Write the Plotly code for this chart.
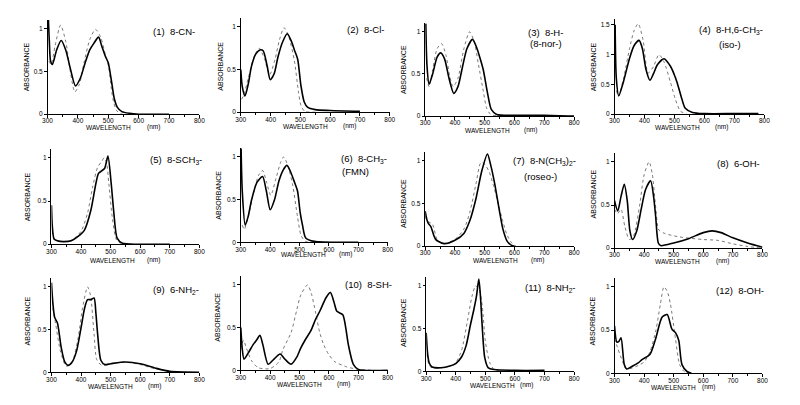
import plotly.graph_objects as go

# ---------------- data (wavelength nm, absorbance) ----------------
p1_sol_wl = [303, 306, 310, 316, 330, 345, 360, 376, 392, 408, 424, 439, 453, 468, 479, 490, 500, 510, 520, 530, 545, 570, 600, 700]
p1_sol_ab = [1.1, 0.85, 0.62, 0.58, 0.75, 0.86, 0.75, 0.52, 0.33, 0.42, 0.6, 0.75, 0.83, 0.9, 0.79, 0.68, 0.6, 0.4, 0.18, 0.08, 0.03, 0.01, 0.0, 0.0]
p1_dot_wl = [305, 312, 325, 343, 360, 375, 390, 405, 420, 440, 458, 475, 490, 501, 510, 517, 528, 545, 600]
p1_dot_ab = [0.62, 0.58, 0.8, 1.04, 0.85, 0.5, 0.26, 0.35, 0.6, 0.88, 0.99, 0.9, 0.7, 0.56, 0.3, 0.15, 0.04, 0.0, 0.0]

p2_sol_wl = [300, 305, 314, 325, 336, 350, 364, 375, 388, 399, 412, 425, 440, 456, 470, 480, 491, 502, 513, 524, 550, 600, 700]
p2_sol_ab = [0.5, 0.3, 0.19, 0.33, 0.54, 0.68, 0.73, 0.72, 0.55, 0.38, 0.45, 0.65, 0.82, 0.92, 0.83, 0.73, 0.62, 0.31, 0.12, 0.06, 0.03, 0.02, 0.01]
p2_dot_wl = [302, 310, 325, 345, 362, 380, 397, 415, 430, 445, 460, 480, 494, 502, 515, 550]
p2_dot_ab = [0.15, 0.2, 0.4, 0.65, 0.75, 0.62, 0.44, 0.62, 0.85, 0.99, 0.9, 0.6, 0.23, 0.08, 0.01, 0.0]

p3_sol_wl = [302, 306, 313, 325, 340, 352, 365, 380, 396, 410, 425, 440, 459, 472, 484, 495, 509, 522, 540, 600, 700, 800]
p3_sol_ab = [1.1, 0.6, 0.38, 0.5, 0.7, 0.75, 0.68, 0.45, 0.27, 0.35, 0.58, 0.8, 0.91, 0.82, 0.69, 0.55, 0.28, 0.08, 0.02, 0.01, 0.01, 0.0]
p3_dot_wl = [305, 313, 325, 340, 355, 370, 382, 394, 410, 430, 449, 465, 478, 495, 506, 520, 560]
p3_dot_ab = [0.45, 0.35, 0.55, 0.8, 0.86, 0.72, 0.48, 0.35, 0.45, 0.8, 1.0, 0.88, 0.63, 0.3, 0.1, 0.02, 0.0]

p4_sol_wl = [302, 306, 314, 330, 349, 365, 382, 393, 405, 418, 430, 443, 465, 487, 498, 509, 525, 536, 560, 600, 700, 780]
p4_sol_ab = [1.5, 0.6, 0.31, 0.55, 0.92, 1.15, 1.24, 1.1, 0.75, 0.57, 0.68, 0.83, 0.93, 0.8, 0.68, 0.53, 0.25, 0.1, 0.03, 0.01, 0.01, 0.01]
p4_dot_wl = [306, 313, 330, 350, 365, 379, 395, 412, 430, 448, 465, 487, 503, 520, 540]
p4_dot_ab = [0.4, 0.3, 0.6, 1.1, 1.4, 1.52, 1.25, 0.69, 0.8, 1.0, 0.88, 0.53, 0.25, 0.05, 0.01]

p5_sol_wl = [300, 303, 309, 320, 340, 367, 390, 411, 433, 450, 459, 470, 480, 491, 502, 511, 522, 540, 600, 700]
p5_sol_ab = [0.45, 0.2, 0.06, 0.04, 0.03, 0.04, 0.09, 0.16, 0.39, 0.7, 0.82, 0.85, 0.88, 1.02, 0.7, 0.36, 0.07, 0.01, 0.0, 0.0]
p5_dot_wl = [303, 310, 340, 370, 400, 422, 439, 456, 470, 478, 486, 494, 506, 520, 540]
p5_dot_ab = [0.15, 0.05, 0.03, 0.05, 0.15, 0.36, 0.66, 0.89, 0.96, 1.0, 0.95, 0.7, 0.3, 0.05, 0.0]

p6_sol_wl = [301, 305, 315, 325, 337, 355, 374, 387, 400, 415, 430, 445, 457, 470, 482, 493, 502, 510, 521, 550, 700]
p6_sol_ab = [1.1, 0.6, 0.2, 0.3, 0.5, 0.7, 0.77, 0.6, 0.38, 0.5, 0.72, 0.85, 0.9, 0.82, 0.71, 0.6, 0.35, 0.2, 0.05, 0.01, 0.0]
p6_dot_wl = [305, 312, 325, 345, 360, 374, 388, 402, 420, 435, 446, 460, 476, 493, 505, 520, 550]
p6_dot_ab = [0.2, 0.15, 0.3, 0.6, 0.78, 0.84, 0.7, 0.55, 0.75, 0.93, 1.0, 0.9, 0.68, 0.3, 0.08, 0.01, 0.0]

p7_sol_wl = [300, 305, 310, 319, 335, 363, 400, 430, 450, 470, 490, 509, 520, 533, 550, 561, 575, 590, 600]
p7_sol_ab = [0.41, 0.32, 0.27, 0.23, 0.08, 0.03, 0.07, 0.15, 0.3, 0.55, 0.88, 1.08, 0.95, 0.74, 0.4, 0.2, 0.06, 0.01, 0.0]
p7_dot_wl = [300, 308, 324, 341, 360, 400, 430, 450, 470, 487, 500, 515, 530, 545, 560, 575, 590, 605]
p7_dot_ab = [0.35, 0.29, 0.26, 0.07, 0.03, 0.08, 0.2, 0.4, 0.72, 0.98, 0.96, 0.87, 0.7, 0.5, 0.3, 0.13, 0.04, 0.0]

p8_sol_wl = [300, 311, 322, 333, 343, 352, 361, 375, 390, 405, 422, 432, 439, 448, 456, 500, 550, 600, 630, 660, 700, 750, 800]
p8_sol_ab = [0.55, 0.43, 0.6, 0.74, 0.55, 0.2, 0.1, 0.2, 0.45, 0.68, 0.78, 0.6, 0.37, 0.06, 0.03, 0.06, 0.11, 0.18, 0.2, 0.18, 0.12, 0.06, 0.01]
p8_dot_wl = [300, 310, 322, 335, 350, 365, 385, 400, 417, 428, 439, 450, 470, 520, 600, 650, 700, 750, 800]
p8_dot_ab = [0.45, 0.4, 0.45, 0.25, 0.1, 0.15, 0.5, 0.85, 1.0, 0.85, 0.48, 0.21, 0.17, 0.13, 0.1, 0.09, 0.05, 0.02, 0.0]

p9_sol_wl = [300, 305, 311, 320, 333, 345, 356, 370, 385, 400, 412, 422, 433, 444, 450, 456, 467, 480, 500, 550, 600, 650, 700, 800]
p9_sol_ab = [1.05, 0.8, 0.64, 0.58, 0.29, 0.12, 0.08, 0.12, 0.25, 0.52, 0.75, 0.85, 0.85, 0.87, 0.7, 0.45, 0.14, 0.09, 0.1, 0.12, 0.1, 0.05, 0.01, 0.0]
p9_dot_wl = [305, 315, 330, 350, 370, 390, 405, 422, 432, 444, 453, 470, 500, 550, 600, 650, 700]
p9_dot_ab = [0.75, 0.55, 0.25, 0.07, 0.12, 0.4, 0.75, 1.0, 0.9, 0.45, 0.15, 0.08, 0.1, 0.12, 0.09, 0.04, 0.01]

p10_sol_wl = [300, 305, 311, 325, 342, 355, 365, 375, 393, 410, 434, 450, 471, 490, 504, 520, 538, 555, 570, 590, 605, 617, 627, 647, 657, 666, 683, 700, 800]
p10_sol_ab = [0.5, 0.25, 0.13, 0.2, 0.3, 0.36, 0.41, 0.3, 0.07, 0.12, 0.19, 0.13, 0.07, 0.15, 0.26, 0.36, 0.46, 0.6, 0.7, 0.85, 0.91, 0.8, 0.69, 0.65, 0.5, 0.3, 0.07, 0.01, 0.0]
p10_dot_wl = [300, 309, 320, 337, 359, 400, 430, 443, 471, 490, 504, 527, 540, 555, 568, 582, 600, 620, 660, 700, 750]
p10_dot_ab = [0.25, 0.35, 0.25, 0.11, 0.03, 0.02, 0.1, 0.24, 0.44, 0.7, 0.88, 1.0, 0.9, 0.67, 0.45, 0.3, 0.18, 0.1, 0.04, 0.01, 0.0]

p11_sol_wl = [300, 305, 310, 320, 350, 380, 400, 420, 435, 450, 461, 470, 478, 484, 489, 498, 510, 530, 600, 700]
p11_sol_ab = [0.45, 0.2, 0.1, 0.05, 0.04, 0.06, 0.09, 0.17, 0.3, 0.55, 0.72, 0.88, 1.08, 0.85, 0.55, 0.16, 0.04, 0.02, 0.01, 0.01]
p11_dot_wl = [303, 310, 320, 350, 380, 400, 420, 440, 455, 467, 480, 490, 500, 515, 530, 560]
p11_dot_ab = [0.2, 0.07, 0.04, 0.04, 0.06, 0.1, 0.25, 0.6, 0.88, 1.0, 0.95, 0.75, 0.35, 0.1, 0.02, 0.0]

p12_sol_wl = [300, 308, 315, 322, 333, 341, 360, 380, 394, 420, 439, 461, 478, 494, 506, 517, 528, 545, 560]
p12_sol_ab = [0.55, 0.36, 0.37, 0.41, 0.1, 0.05, 0.08, 0.12, 0.16, 0.22, 0.4, 0.65, 0.68, 0.51, 0.47, 0.38, 0.1, 0.02, 0.0]
p12_dot_wl = [300, 310, 320, 340, 360, 380, 400, 420, 440, 455, 467, 478, 489, 506, 520, 535, 550]
p12_dot_ab = [0.4, 0.3, 0.2, 0.05, 0.06, 0.09, 0.13, 0.25, 0.5, 0.8, 1.0, 0.95, 0.8, 0.4, 0.1, 0.02, 0.0]

titles = ["(1)  8-CN-", "(2)  8-Cl-", "(3)  8-H-", "(4)  8-H,6-CH<sub>3</sub>-",
          "(5)  8-SCH<sub>3</sub>-", "(6)  8-CH<sub>3</sub>-", "(7)  8-N(CH<sub>3</sub>)<sub>2</sub>-", "(8)  6-OH-",
          "(9)  6-NH<sub>2</sub>-", "(10)  8-SH-", "(11)  8-NH<sub>2</sub>-", "(12)  8-OH-"]
subtitles = ["", "", "(8-nor-)", "(iso-)", "", "(FMN)", "(roseo-)", "", "", "", "", ""]
x_ticks = [300, 400, 500, 600, 700, 800]

solids = [(p1_sol_wl, p1_sol_ab), (p2_sol_wl, p2_sol_ab), (p3_sol_wl, p3_sol_ab), (p4_sol_wl, p4_sol_ab),
          (p5_sol_wl, p5_sol_ab), (p6_sol_wl, p6_sol_ab), (p7_sol_wl, p7_sol_ab), (p8_sol_wl, p8_sol_ab),
          (p9_sol_wl, p9_sol_ab), (p10_sol_wl, p10_sol_ab), (p11_sol_wl, p11_sol_ab), (p12_sol_wl, p12_sol_ab)]
dots = [(p1_dot_wl, p1_dot_ab), (p2_dot_wl, p2_dot_ab), (p3_dot_wl, p3_dot_ab), (p4_dot_wl, p4_dot_ab),
        (p5_dot_wl, p5_dot_ab), (p6_dot_wl, p6_dot_ab), (p7_dot_wl, p7_dot_ab), (p8_dot_wl, p8_dot_ab),
        (p9_dot_wl, p9_dot_ab), (p10_dot_wl, p10_dot_ab), (p11_dot_wl, p11_dot_ab), (p12_dot_wl, p12_dot_ab)]

# ---------------- layout geometry (window pixels) ----------------
OFF = 8            # default page body margin
W, H = 800 - OFF, 405 - OFF
# x0, x1 (axis px), y_zero px, px per unit, ymax
geom = [
    (43, 197, 115, 86.3, 1.1), (239, 390, 113, 86, 1.1), (426, 577, 117, 85, 1.1), (618, 770, 115, 60, 1.6),
    (47, 197, 246, 87, 1.1), (239, 388, 244, 86, 1.1), (426, 577, 248, 86, 1.1), (618, 768, 250, 87, 1.1),
    (47, 197, 375, 86, 1.1), (239, 388, 373, 86, 1.1), (427, 577, 374, 86, 1.1), (618, 768, 376, 87, 1.1),
]
title_pos = [(148, 32), (345, 30), (528, 33), (702, 30), (145, 161), (339, 160), (513, 162), (720, 165),
             (148, 292), (343, 287), (525, 290), (719, 293)]
sub_pos = [None, None, (549, 44), (735, 45), None, (355, 173), (543, 178), None, None, None, None, None]
wl_pos = [(105, 128, 150), (305, 127, 349), (489, 131, 533), (682, 128, 726),
          (109, 262, 150), (303, 256, 345), (497, 262, 540), (682, 263, 727),
          (107, 389, 151), (299, 387, 343), (494, 388, 529), (678, 390, 713)]
abs_pos = [(22, 67), (218, 67), (404, 70), (597, 67), (23, 198), (216, 197), (404, 205), (597, 195),
           (23, 323), (216, 320), (404, 325), (596, 323)]

FONT = "Liberation Sans, Arial, sans-serif"

def px(x):
    return (x - OFF) / W

def py(y):
    return 1 - (y - OFF) / H

fig = go.Figure()
layout = dict(width=W, height=H, margin=dict(l=0, r=0, t=0, b=0),
              paper_bgcolor="white", plot_bgcolor="white", showlegend=False,
              font=dict(family=FONT, color="black"))
annotations = []

for i in range(12):
    k = "" if i == 0 else str(i + 1)
    x0, x1, yz, sc, ymax = geom[i]
    ytop = yz - ymax * sc
    xa = dict(domain=[px(x0), px(x1)], range=[300, 800], tickvals=x_ticks, ticks="outside", ticklen=2.5,
              tickwidth=1, tickcolor="black", showline=True, linecolor="black", linewidth=1,
              showgrid=False, zeroline=False, tickfont=dict(size=6.5, family=FONT), anchor="y" + k,
              ticklabelstandoff=-2,
              minor=dict(dtick=50, tick0=300, ticks="outside", ticklen=1.5, tickcolor="black"))
    yvals = [0, 0.5, 1] if ymax < 1.5 else [0, 0.5, 1, 1.5]
    ya = dict(domain=[py(yz), py(ytop)], range=[0, ymax], tickvals=yvals, ticktext=[f"{v:g}" for v in yvals],
              ticks="outside", ticklen=2.5, tickwidth=1, tickcolor="black", showline=True, linecolor="black",
              linewidth=1, showgrid=False, zeroline=False, tickfont=dict(size=6.5, family=FONT), anchor="x" + k)
    layout["xaxis" + k] = xa
    layout["yaxis" + k] = ya

    dw, da = dots[i]
    fig.add_trace(go.Scatter(x=dw, y=da, mode="lines", xaxis="x" + k, yaxis="y" + k,
                             line=dict(color="#555555", width=0.8, dash="dot", shape="spline", smoothing=0.7)))
    sw, sa = solids[i]
    fig.add_trace(go.Scatter(x=sw, y=sa, mode="lines", xaxis="x" + k, yaxis="y" + k,
                             line=dict(color="black", width=1.6, shape="spline", smoothing=0.7)))

    tx, ty = title_pos[i]
    annotations.append(dict(x=px(tx), y=py(ty), xref="paper", yref="paper", text=titles[i], showarrow=False,
                            xanchor="left", yanchor="middle", font=dict(size=9.5, family=FONT)))
    if sub_pos[i]:
        sx, sy = sub_pos[i]
        annotations.append(dict(x=px(sx), y=py(sy), xref="paper", yref="paper", text=subtitles[i],
                                showarrow=False, xanchor="center", yanchor="middle",
                                font=dict(size=9.5, family=FONT)))
    wx, wy, nx = wl_pos[i]
    annotations.append(dict(x=px(wx), y=py(wy), xref="paper", yref="paper", text="WAVELENGTH",
                            showarrow=False, xanchor="center", yanchor="middle", font=dict(size=6.5, family=FONT)))
    annotations.append(dict(x=px(nx), y=py(wy), xref="paper", yref="paper", text="(nm)",
                            showarrow=False, xanchor="center", yanchor="middle", font=dict(size=6.5, family=FONT)))
    ax_, ay_ = abs_pos[i]
    annotations.append(dict(x=px(ax_), y=py(ay_), xref="paper", yref="paper", text="ABSORBANCE",
                            showarrow=False, xanchor="center", yanchor="middle", textangle=-90,
                            font=dict(size=7, family=FONT)))

layout["annotations"] = annotations
fig.update_layout(**layout)
fig.write_html("out.html")
